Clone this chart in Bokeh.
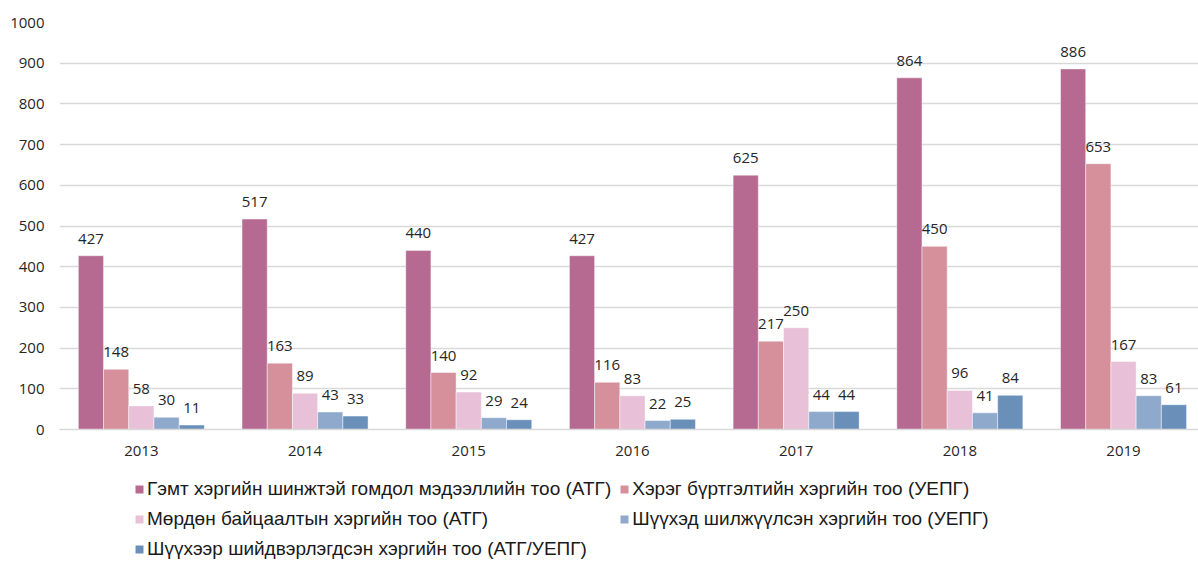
import numpy as np
from bokeh.plotting import figure
from bokeh.layouts import column
from bokeh.models import Range1d, FixedTicker, Legend, LegendItem, ColumnDataSource
from bokeh.core.properties import value
from bokeh.embed import file_html
from bokeh.resources import INLINE

years = ["2013", "2014", "2015", "2016", "2017", "2018", "2019"]
series_names = [
    "Гэмт хэргийн шинжтэй гомдол мэдээллийн тоо (АТГ)",
    "Хэрэг бүртгэлтийн хэргийн тоо (УЕПГ)",
    "Мөрдөн байцаалтын хэргийн тоо (АТГ)",
    "Шүүхэд шилжүүлсэн хэргийн тоо (УЕПГ)",
    "Шүүхээр шийдвэрлэгдсэн хэргийн тоо (АТГ/УЕПГ)",
]
complaints = [427, 517, 440, 427, 625, 864, 886]
registration = [148, 163, 140, 116, 217, 450, 653]
investigation = [58, 89, 92, 83, 250, 96, 167]
to_court = [30, 43, 29, 22, 44, 41, 83]
court_decided = [11, 33, 24, 25, 44, 84, 61]
series_values = [complaints, registration, investigation, to_court, court_decided]
colors = ["#b76a91", "#d5909c", "#e8c0d7", "#8fa9cd", "#6a90ba"]
y_ticks = [0, 100, 200, 300, 400, 500, 600, 700, 800, 900, 1000]

TEXT_FONT = "Open Sans"
bar_w = 0.154

p = figure(width=1198, height=470, output_backend="svg", toolbar_location=None,
           x_range=Range1d(0, 6.958), y_range=Range1d(0, 1000),
           min_border_left=59, min_border_right=0, min_border_top=22,
           min_border_bottom=41)
p.outline_line_color = None
p.background_fill_color = "white"
p.border_fill_color = "white"

cat = np.arange(len(years)) + 0.5
for j, (vals, col) in enumerate(zip(series_values, colors)):
    xs = cat + (j - 2) * bar_w
    src = ColumnDataSource(dict(x=xs, top=vals, lab=[str(v) for v in vals]))
    p.vbar(x="x", top="top", width=bar_w, bottom=0, source=src,
           fill_color=col, line_color="white", line_alpha=0.45, line_width=1)
    p.text(x="x", y="top", text="lab", source=src, text_align="center",
           text_baseline="middle", y_offset=-17, text_font=value(TEXT_FONT),
           text_font_size="15px", text_color="#262626")

# axes
p.xaxis.ticker = FixedTicker(ticks=list(cat))
p.xaxis.major_label_overrides = {float(c): y for c, y in zip(cat, years)}
p.xaxis.axis_line_color = "#d9d9d9"
p.xaxis.axis_line_width = 1.3
p.xaxis.major_tick_line_color = None
p.xaxis.minor_tick_line_color = None
p.xaxis.major_tick_out = 0
p.xaxis.major_label_standoff = 16
p.xaxis.major_label_text_font = TEXT_FONT
p.xaxis.major_label_text_font_size = "15px"
p.xaxis.major_label_text_color = "#262626"

p.yaxis.ticker = FixedTicker(ticks=y_ticks)
p.yaxis.axis_line_color = None
p.yaxis.major_tick_line_color = None
p.yaxis.minor_tick_line_color = None
p.yaxis.major_tick_out = 0
p.yaxis.major_label_standoff = 15
p.yaxis.major_label_text_font = TEXT_FONT
p.yaxis.major_label_text_font_size = "15px"
p.yaxis.major_label_text_color = "#262626"

p.xgrid.grid_line_color = None
p.ygrid.ticker = FixedTicker(ticks=y_ticks)
p.ygrid.grid_line_color = "#d9d9d9"
p.ygrid.grid_line_width = 1.3

# legend panel (separate figure below the chart)
pl = figure(width=1198, height=92, output_backend="svg", toolbar_location=None,
            x_range=Range1d(0, 1), y_range=Range1d(0, 1),
            x_axis_location=None, y_axis_location=None,
            min_border_left=0, min_border_right=0, min_border_top=0,
            min_border_bottom=0)
pl.outline_line_color = None
pl.grid.visible = False
items = []
for name, col in zip(series_names, colors):
    # placed outside the visible range: only the legend swatch is seen
    r = pl.vbar(x=[10], top=[10], bottom=[9], width=0.1, fill_color=col, line_color=None)
    items.append(LegendItem(label=name, renderers=[r]))

legend = Legend(items=items, location=(75, 2), orientation="horizontal", ncols=2,
                label_text_font="Liberation Sans", label_text_font_size="19px",
                label_text_color="#1a1a1a", glyph_width=10, glyph_height=10,
                label_height=22, label_standoff=3, spacing=8, padding=0, margin=0,
                border_line_alpha=0, background_fill_alpha=0)
pl.add_layout(legend, "center")

layout = column(p, pl, spacing=0)
open("out.html", "w").write(file_html(layout, INLINE))
